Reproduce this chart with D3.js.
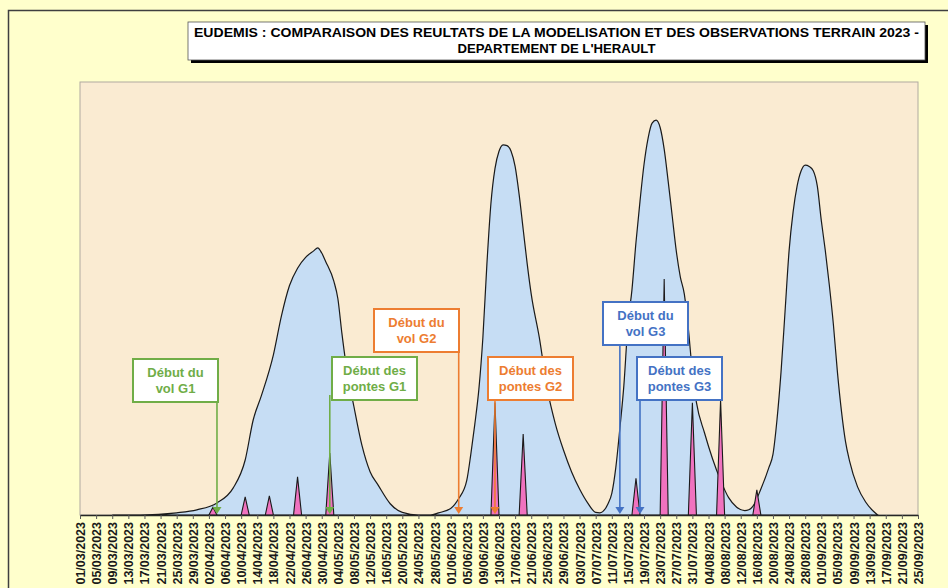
<!DOCTYPE html>
<html>
<head>
<meta charset="utf-8">
<script src="https://cdn.jsdelivr.net/npm/d3@7"></script>
<style>
  body { margin: 0; background: #ffffcc; }
  svg { display: block; }
</style>
</head>
<body>
<div id="chart"></div>
<script>
// model output (blue area), one value per listed day
const modelDates = [
  "09/03", "16/03", "25/03", "30/03", "04/04", "08/04", "11/04", "13/04", "15/04", "18/04",
  "20/04", "22/04", "24/04", "26/04", "28/04", "29/04", "30/04", "01/05", "03/05", "04/05",
  "05/05", "06/05", "08/05", "10/05", "12/05", "14/05", "17/05", "20/05", "24/05",
  "27/05", "29/05", "01/06", "03/06", "05/06", "06/06", "07/06", "08/06", "09/06", "10/06",
  "11/06", "12/06", "13/06", "14/06", "15/06", "16/06", "17/06", "18/06", "19/06", "20/06",
  "21/06", "23/06", "25/06", "27/06", "29/06", "01/07", "03/07", "05/07", "07/07",
  "08/07", "10/07", "11/07", "12/07", "13/07", "14/07", "15/07", "16/07", "17/07", "18/07",
  "19/07", "20/07", "21/07", "22/07", "23/07", "24/07", "25/07", "26/07", "27/07", "28/07",
  "29/07", "30/07", "31/07", "01/08", "03/08", "05/08", "07/08", "09/08", "11/08", "13/08",
  "14/08", "15/08", "17/08", "19/08", "20/08", "21/08", "22/08", "23/08", "24/08", "25/08",
  "26/08", "27/08", "28/08", "29/08", "30/08", "31/08", "01/09", "02/09", "03/09", "04/09",
  "05/09", "06/09", "07/09", "08/09", "10/09", "12/09", "14/09", "15/09"
]
const modelValues = [
  0, 0, 0.5, 1.2, 2.8, 6.2, 12.7, 22, 27.5, 37,
  46, 53, 57, 59.5, 61, 61.7, 60.5, 58.5, 54, 50,
  42, 35, 25, 16, 10, 6.9, 2.6, 0.6, 0,
  0, 0.5, 1.5, 3.8, 8, 14, 21, 29, 41, 58,
  72, 80, 84, 85.5, 85.3, 84, 80.5, 74, 66, 58,
  51, 41, 29, 21, 15, 10, 6, 2.8, 0.6,
  0.5, 2.5, 5, 11, 20, 30, 44, 52, 63, 72.5,
  81, 87, 90.5, 91.2, 89.5, 84.5, 77, 69, 61, 55,
  51, 43, 33, 26, 19, 13, 8, 4, 1.8, 1.0,
  1.2, 2.0, 6, 11, 14, 22, 33, 47, 61, 70,
  76, 79.5, 80.8, 80.5, 79.5, 76, 68, 61, 53, 44,
  33, 24, 17, 12.5, 6.5, 3, 0.8, 0
]

// field observations (pink spikes)
const obsDates = ["03/04", "11/04", "17/04", "24/04", "02/05", "12/06", "19/06",
                  "17/07", "24/07", "31/07", "07/08", "16/08"]
const obsValues = [1.8, 4.2, 4.4, 8.8, 14.3, 26, 18.7, 8.5, 54.5, 25.9, 26.6, 5.8]

const annotations = [
  {date: "04/04", lines: ["Début du", "vol G1"], color: "#70ad47"},
  {date: "02/05", lines: ["Début des", "pontes G1"], color: "#70ad47"},
  {date: "03/06", lines: ["Début du", "vol G2"], color: "#ed7d31"},
  {date: "12/06", lines: ["Début des", "pontes G2"], color: "#ed7d31"},
  {date: "13/07", lines: ["Début du", "vol G3"], color: "#4472c4"},
  {date: "18/07", lines: ["Début des", "pontes G3"], color: "#4472c4"}
]
// box placement for each annotation (left, top, arrow start)
const boxLayout = [
  {x: 133, y: 359, arrowTop: 402},
  {x: 332, y: 357, arrowTop: 395},
  {x: 374, y: 309, arrowTop: 352},
  {x: 488, y: 357, arrowTop: 401},
  {x: 603, y: 302, arrowTop: 345},
  {x: 637, y: 357, arrowTop: 400}
]

const titleLines = [
  "EUDEMIS : COMPARAISON DES REULTATS DE LA MODELISATION ET DES OBSERVATIONS TERRAIN 2023 -",
  "DEPARTEMENT DE L'HERAULT"
]

const axisStart = "01/03", axisEnd = "25/09"

const W = 948, H = 588
const plot = {left: 80, right: 918, top: 82, bottom: 515}

const parse = s => d3.utcParse("%d/%m/%Y")(s + "/2023")

const svg = d3.select("#chart").append("svg")
  .attr("width", W)
  .attr("height", H)
  .style("font-family", "'Liberation Sans', Arial, sans-serif")

// outer frame
svg.append("rect")
  .attr("x", 8.5).attr("y", 10.5)
  .attr("width", W + 20).attr("height", H + 20)
  .attr("fill", "#ffffcc")
  .attr("stroke", "#3f3f3f")
  .attr("stroke-width", 1.5)

// plot area
svg.append("rect")
  .attr("x", plot.left).attr("y", plot.top)
  .attr("width", plot.right - plot.left).attr("height", plot.bottom - plot.top)
  .attr("fill", "#faebd2")
  .attr("stroke", "#b0aaa0")
  .attr("stroke-width", 1)

const x = d3.scaleUtc()
  .domain([parse(axisStart), parse(axisEnd)])
  .range([plot.left, plot.right])

const y = d3.scaleLinear()
  .domain([0, 100])
  .range([plot.bottom, plot.top])

// model area
const model = modelDates.map((d, i) => ({date: parse(d), value: modelValues[i]}))

svg.append("path")
  .datum(model)
  .attr("d", d3.area()
    .x(d => x(d.date))
    .y0(y(0))
    .y1(d => y(d.value))
    .curve(d3.curveMonotoneX))
  .attr("fill", "#c6ddf4")
  .attr("stroke", "#1a1a1a")
  .attr("stroke-width", 1.2)

// observation spikes
const obs = obsDates.map((d, i) => ({date: parse(d), value: obsValues[i]}))

svg.append("g")
  .selectAll("path")
  .data(obs)
  .join("path")
    .attr("d", d => d3.area()
      .x(p => x(p.date))
      .y0(y(0))
      .y1(p => y(p.value))([
        {date: d3.utcDay.offset(d.date, -1), value: 0},
        d,
        {date: d3.utcDay.offset(d.date, 1), value: 0}
      ]))
    .attr("fill", "#f072bf")
    .attr("stroke", "#1a1a1a")
    .attr("stroke-width", 1.1)

// x axis
const ticks = d3.utcDay.range(parse(axisStart), d3.utcDay.offset(parse(axisEnd), 1), 4)

const xAxis = svg.append("g")
  .attr("transform", `translate(0,${plot.bottom})`)
  .call(d3.axisBottom(x)
    .tickValues(ticks)
    .tickFormat(d3.utcFormat("%d/%m/%Y"))
    .tickSize(4)
    .tickSizeOuter(0))

xAxis.select(".domain").attr("stroke", "#262626").attr("stroke-width", 1.3)
xAxis.selectAll(".tick line").attr("stroke", "#595959")
xAxis.selectAll(".tick text")
  .attr("transform", "rotate(-90)")
  .attr("text-anchor", "end")
  .attr("x", -7)
  .attr("y", 0)
  .attr("dy", "0.36em")
  .attr("fill", "#1a1a1a")
  .style("font-size", "12.5px")
  .style("font-weight", "bold")
  .style("font-family", "'Liberation Sans', Arial, sans-serif")

// annotations
const ann = svg.append("g")
annotations.forEach((a, i) => {
  const box = boxLayout[i]
  const ax = x(parse(a.date))
  const bw = 85, bh = 43

  ann.append("line")
    .attr("x1", ax).attr("x2", ax)
    .attr("y1", box.arrowTop).attr("y2", plot.bottom - 6)
    .attr("stroke", a.color)
    .attr("stroke-width", 1.6)

  ann.append("path")
    .attr("d", `M${ax - 4.5},${plot.bottom - 8} L${ax + 4.5},${plot.bottom - 8} L${ax},${plot.bottom - 1} Z`)
    .attr("fill", a.color)

  ann.append("rect")
    .attr("x", box.x).attr("y", box.y)
    .attr("width", bw).attr("height", bh)
    .attr("fill", "#ffffff")
    .attr("stroke", a.color)
    .attr("stroke-width", 2)

  ann.append("text")
    .attr("text-anchor", "middle")
    .attr("fill", a.color)
    .style("font-size", "13px")
    .style("font-weight", "bold")
    .selectAll("tspan")
    .data(a.lines)
    .join("tspan")
      .attr("x", box.x + bw / 2)
      .attr("y", (d, j) => box.y + 18 + j * 15.5)
      .text(d => d)
})

// title
const title = {x: 188, y: 22, w: 737, h: 38}
svg.append("rect")
  .attr("x", title.x + 3).attr("y", title.y + 3)
  .attr("width", title.w).attr("height", title.h)
  .attr("fill", "#000000")
svg.append("rect")
  .attr("x", title.x).attr("y", title.y)
  .attr("width", title.w).attr("height", title.h)
  .attr("fill", "#ffffff")
  .attr("stroke", "#555555")
  .attr("stroke-width", 0.8)

svg.append("text")
  .attr("x", title.x + title.w / 2)
  .attr("y", title.y + 15)
  .attr("text-anchor", "middle")
  .attr("textLength", 725)
  .attr("lengthAdjust", "spacingAndGlyphs")
  .style("font-size", "13px")
  .style("font-weight", "bold")
  .text(titleLines[0])

svg.append("text")
  .attr("x", title.x + title.w / 2)
  .attr("y", title.y + 31)
  .attr("text-anchor", "middle")
  .attr("textLength", 198)
  .attr("lengthAdjust", "spacingAndGlyphs")
  .style("font-size", "13px")
  .style("font-weight", "bold")
  .text(titleLines[1])
</script>
</body>
</html>
